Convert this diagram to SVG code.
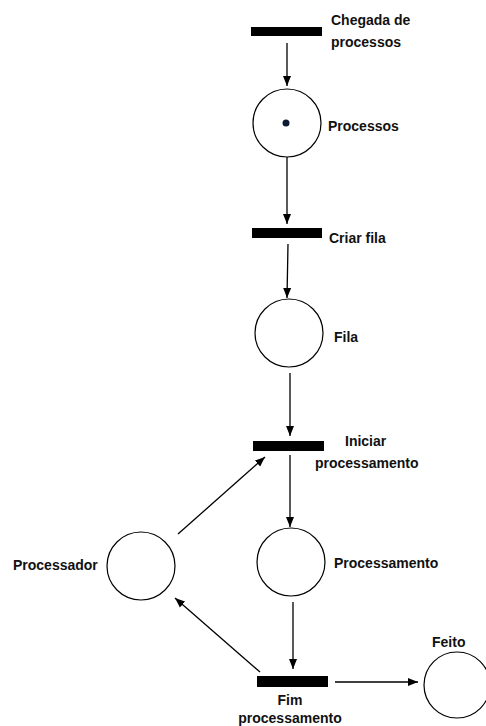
<svg xmlns="http://www.w3.org/2000/svg" width="486" height="726" viewBox="0 0 486 726">
<defs>
<marker id="ah" markerUnits="userSpaceOnUse" markerWidth="10" markerHeight="10" viewBox="0 0 10 10" refX="10" refY="5" orient="auto">
<path d="M0,1 L10,5 L0,9 Z" fill="#000"/>
</marker>
<style>
.t{fill:#000}
.p{fill:#fff;stroke:#000;stroke-width:1.2}
.lbl{font-family:"Liberation Sans",Arial,sans-serif;font-weight:bold;font-size:14px;fill:#111}
.c{stroke:#000;stroke-width:1.3;fill:none;marker-end:url(#ah)}
</style>
</defs>
<rect width="486" height="726" fill="#fff"/>
<g id="connectors">
<line class="c" x1="287" y1="43" x2="287" y2="86"/>
<line class="c" x1="287" y1="157" x2="287" y2="224"/>
<line class="c" x1="288" y1="244" x2="287" y2="298"/>
<line class="c" x1="290" y1="373" x2="290" y2="436"/>
<line class="c" x1="290" y1="455" x2="290" y2="527"/>
<line class="c" x1="178" y1="534" x2="265" y2="457"/>
<line class="c" x1="293" y1="602" x2="293" y2="669"/>
<line class="c" x1="260" y1="672" x2="175" y2="598"/>
<line class="c" x1="335" y1="682" x2="418" y2="682"/>
</g>
<g id="t-chegada">
<rect class="t" x="251" y="27" width="71" height="9"/>
<text class="lbl" x="331" y="25">Chegada de</text>
<text class="lbl" x="331" y="47">processos</text>
</g>
<g id="p-processos">
<circle class="p" cx="287" cy="123" r="34"/>
<circle cx="286" cy="123" r="3.5" fill="#0d1a33"/>
<text class="lbl" x="328" y="131">Processos</text>
</g>
<g id="t-criar">
<rect class="t" x="252" y="228" width="70" height="10"/>
<text class="lbl" x="329" y="243">Criar fila</text>
</g>
<g id="p-fila">
<circle class="p" cx="289" cy="333" r="34"/>
<text class="lbl" x="334" y="342">Fila</text>
</g>
<g id="t-iniciar">
<rect class="t" x="253" y="441" width="71" height="10"/>
<text class="lbl" x="345" y="446">Iniciar</text>
<text class="lbl" x="315" y="468">processamento</text>
</g>
<g id="p-processamento">
<circle class="p" cx="291" cy="562" r="34"/>
<text class="lbl" x="334" y="568">Processamento</text>
</g>
<g id="p-processador">
<circle class="p" cx="141" cy="566" r="34"/>
<text class="lbl" x="13" y="570">Processador</text>
</g>
<g id="t-fim">
<rect class="t" x="257" y="676" width="71" height="11"/>
<text class="lbl" x="290" y="705" text-anchor="middle">Fim</text>
<text class="lbl" x="290" y="723" text-anchor="middle">processamento</text>
</g>
<g id="p-feito">
<circle class="p" cx="457" cy="685" r="33"/>
<text class="lbl" x="432" y="647">Feito</text>
</g>
</svg>
